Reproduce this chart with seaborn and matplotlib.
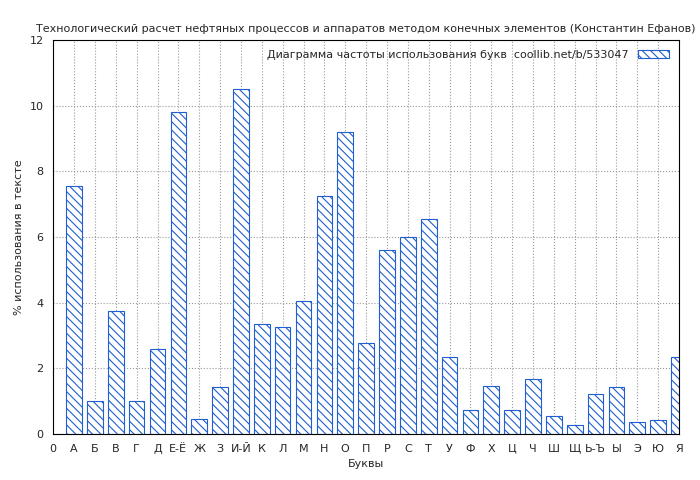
import matplotlib
matplotlib.use("Agg")
import matplotlib.pyplot as plt
import seaborn as sns
import numpy as np
from matplotlib.patches import Patch

# letters and their usage frequency (%)
letters = ["А", "Б", "В", "Г", "Д", "Е-Ё", "Ж", "З", "И-Й", "К", "Л", "М", "Н", "О", "П",
           "Р", "С", "Т", "У", "Ф", "Х", "Ц", "Ч", "Ш", "Щ", "Ь-Ъ", "Ы", "Э", "Ю", "Я"]
freq = [7.55, 1.0, 3.75, 1.0, 2.6, 9.8, 0.45, 1.42, 10.5, 3.35, 3.27, 4.05, 7.25, 9.2, 2.78,
        5.6, 6.0, 6.55, 2.33, 0.72, 1.45, 0.72, 1.68, 0.55, 0.27, 1.22, 1.42, 0.35, 0.42, 2.35]
tick_labels = ["0"] + letters

sns.set_style("white")
plt.rcParams["font.family"] = ["DejaVu Sans"]
plt.rcParams["hatch.color"] = "#1f5fd0"
plt.rcParams["hatch.linewidth"] = 0.8

fig, ax = plt.subplots(figsize=(7, 4.8), dpi=100)
pos = np.arange(1, len(letters) + 1)
sns.barplot(x=pos, y=freq, native_scale=True, width=0.75, color="white",
            edgecolor="#1f5fd0", linewidth=0.8, hatch="\\\\\\\\", ax=ax)

ax.set_xlim(0, 30)
ax.set_ylim(0, 12)
ax.set_xticks(range(0, 31))
ax.set_xticklabels(tick_labels, fontsize=8)
ax.set_yticks(range(0, 13, 2))
ax.tick_params(axis="y", labelsize=8)
ax.grid(True, color="#999999", linestyle=":", linewidth=0.8)
ax.set_axisbelow(True)
for s in ax.spines.values():
    s.set_color("black")
    s.set_linewidth(0.8)

ax.set_xlabel("Буквы", fontsize=8)
ax.set_ylabel("% использования в тексте", fontsize=8)
ax.set_title("Технологический расчет нефтяных процессов и аппаратов методом конечных элементов (Константин Ефанов)",
             fontsize=8)

handle = Patch(facecolor="white", edgecolor="#1f5fd0", hatch="\\\\\\\\", linewidth=0.8)
leg = ax.legend([handle], ["Диаграмма частоты использования букв  coollib.net/b/533047"],
                loc="upper right", fontsize=8, frameon=False, markerfirst=False,
                handlelength=2.8, handleheight=0.8)

fig.subplots_adjust(left=0.076, right=0.97, top=0.917, bottom=0.096)
fig.savefig("out.png", dpi=100)
